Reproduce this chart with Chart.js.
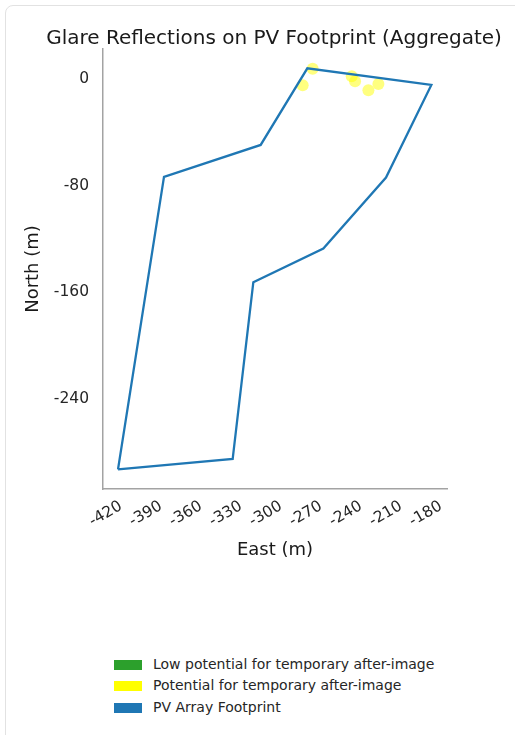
<!DOCTYPE html>
<html>
<head>
<meta charset="utf-8">
<script src="https://cdn.jsdelivr.net/npm/chart.js@4/dist/chart.umd.min.js"></script>
<style>
  html, body { margin: 0; padding: 0; background: #fff; overflow: hidden; }
  body { width: 515px; height: 735px; position: relative; font-family: "DejaVu Sans", sans-serif; }
  #card { position: absolute; left: 5px; top: 5px; width: 530px; height: 760px; border: 1px solid #e2e2e2; border-radius: 8px; }
  #wrap { position: absolute; left: 0; top: 0; width: 548px; height: 580px; }
  #legend { position: absolute; left: 114px; top: 653.5px; font-size: 14px; color: #262626; }
  #legend div { height: 21.7px; line-height: 21.7px; white-space: nowrap; }
  #legend span { display: inline-block; width: 28px; height: 10px; margin-right: 11px; vertical-align: -1px; }
</style>
</head>
<body>
<div id="card"></div>
<div id="wrap"><canvas id="glareChart"></canvas></div>
<div id="legend"></div>
<script>
// footprint outline (east, north in metres), closed
const footEast = [-411, -325, -309.5, -257, -210, -176, -269, -304, -376.5, -411];
const footNorth = [-294.5, -286.7, -154, -128.7, -75.5, -6, 6.5, -51, -75, -294.5];

// glare points, potential for temporary after-image
const glareEast = [-265, -272.5, -235.7, -233.2, -223.2, -215.7];
const glareNorth = [6.2, -6.2, 0.5, -3.2, -10, -5.3];

// low potential points (none in this plot)
const lowEast = [];
const lowNorth = [];

const xTicks = [-420, -390, -360, -330, -300, -270, -240, -210, -180];
const yTicks = [0, -80, -160, -240];

const toPoints = (xs, ys) => xs.map((x, i) => ({ x: x, y: ys[i] }));

const font = "DejaVu Sans";
const axisColor = "#a3a3a3";

const chart = new Chart(document.getElementById("glareChart"), {
  type: "scatter",
  data: {
    datasets: [
      {
        label: "Low potential for temporary after-image",
        data: toPoints(lowEast, lowNorth),
        backgroundColor: "#2ca02c",
        borderWidth: 0,
        pointRadius: 6,
        order: 1,
      },
      {
        label: "Potential for temporary after-image",
        data: toPoints(glareEast, glareNorth),
        backgroundColor: "rgba(255,255,0,0.5)",
        borderWidth: 0,
        pointRadius: 6,
        order: 1,
      },
      {
        label: "PV Array Footprint",
        data: toPoints(footEast, footNorth),
        showLine: true,
        borderColor: "#1f77b4",
        backgroundColor: "#1f77b4",
        borderWidth: 2.3,
        pointRadius: 0,
        fill: false,
        order: 0,
      },
    ],
  },
  options: {
    responsive: true,
    maintainAspectRatio: false,
    animation: false,
    layout: { padding: 0 },
    plugins: {
      legend: { display: false },
      tooltip: { enabled: false },
      title: {
        display: true,
        text: "Glare Reflections on PV Footprint (Aggregate)",
        color: "#1a1a1a",
        font: { family: font, size: 20, weight: "normal", lineHeight: 1 },
        padding: { top: 29, bottom: 0 },
      },
    },
    scales: {
      x: {
        type: "linear",
        min: -422.25,
        max: -164.25,
        afterBuildTicks: (s) => { s.ticks = xTicks.map((v) => ({ value: v })); },
        afterFit: (s) => { s.height = 91; },
        grid: { display: false, drawTicks: false },
        border: { display: true, color: axisColor, width: 1.5 },
        ticks: {
          autoSkip: false,
          minRotation: 30,
          maxRotation: 30,
          labelOffset: 15,
          padding: 8,
          color: "#262626",
          font: { family: font, size: 15.5 },
        },
        title: {
          display: true,
          text: "East (m)",
          color: "#1a1a1a",
          font: { family: font, size: 18 },
          padding: { top: 0, bottom: 18.8 },
        },
      },
      y: {
        type: "linear",
        min: -309.2,
        max: 21,
        afterBuildTicks: (s) => { s.ticks = yTicks.map((v) => ({ value: v })); },
        afterFit: (s) => { s.width = 103; },
        grid: { display: false, drawTicks: false },
        border: { display: true, color: axisColor, width: 1.5 },
        ticks: {
          padding: 14,
          labelOffset: 2,
          color: "#262626",
          font: { family: font, size: 15.5 },
        },
        title: {
          display: true,
          text: "North (m)",
          color: "#1a1a1a",
          font: { family: font, size: 18 },
          padding: { top: 23, bottom: 0 },
        },
      },
      // empty right-hand axis so the title centres over the plot
      yRight: {
        type: "linear",
        position: "right",
        display: true,
        afterFit: (s) => { s.width = 101; },
        grid: { display: false, drawTicks: false },
        border: { display: false },
        ticks: { display: false },
      },
    },
  },
});

// legend as a vertical list, built from the datasets
document.getElementById("legend").innerHTML = chart.data.datasets
  .map((d) => {
    const c = d.label === "Potential for temporary after-image" ? "#ffff00" : d.backgroundColor;
    return `<div><span style="background:${c}"></span>${d.label}</div>`;
  })
  .join("");
</script>
</body>
</html>
